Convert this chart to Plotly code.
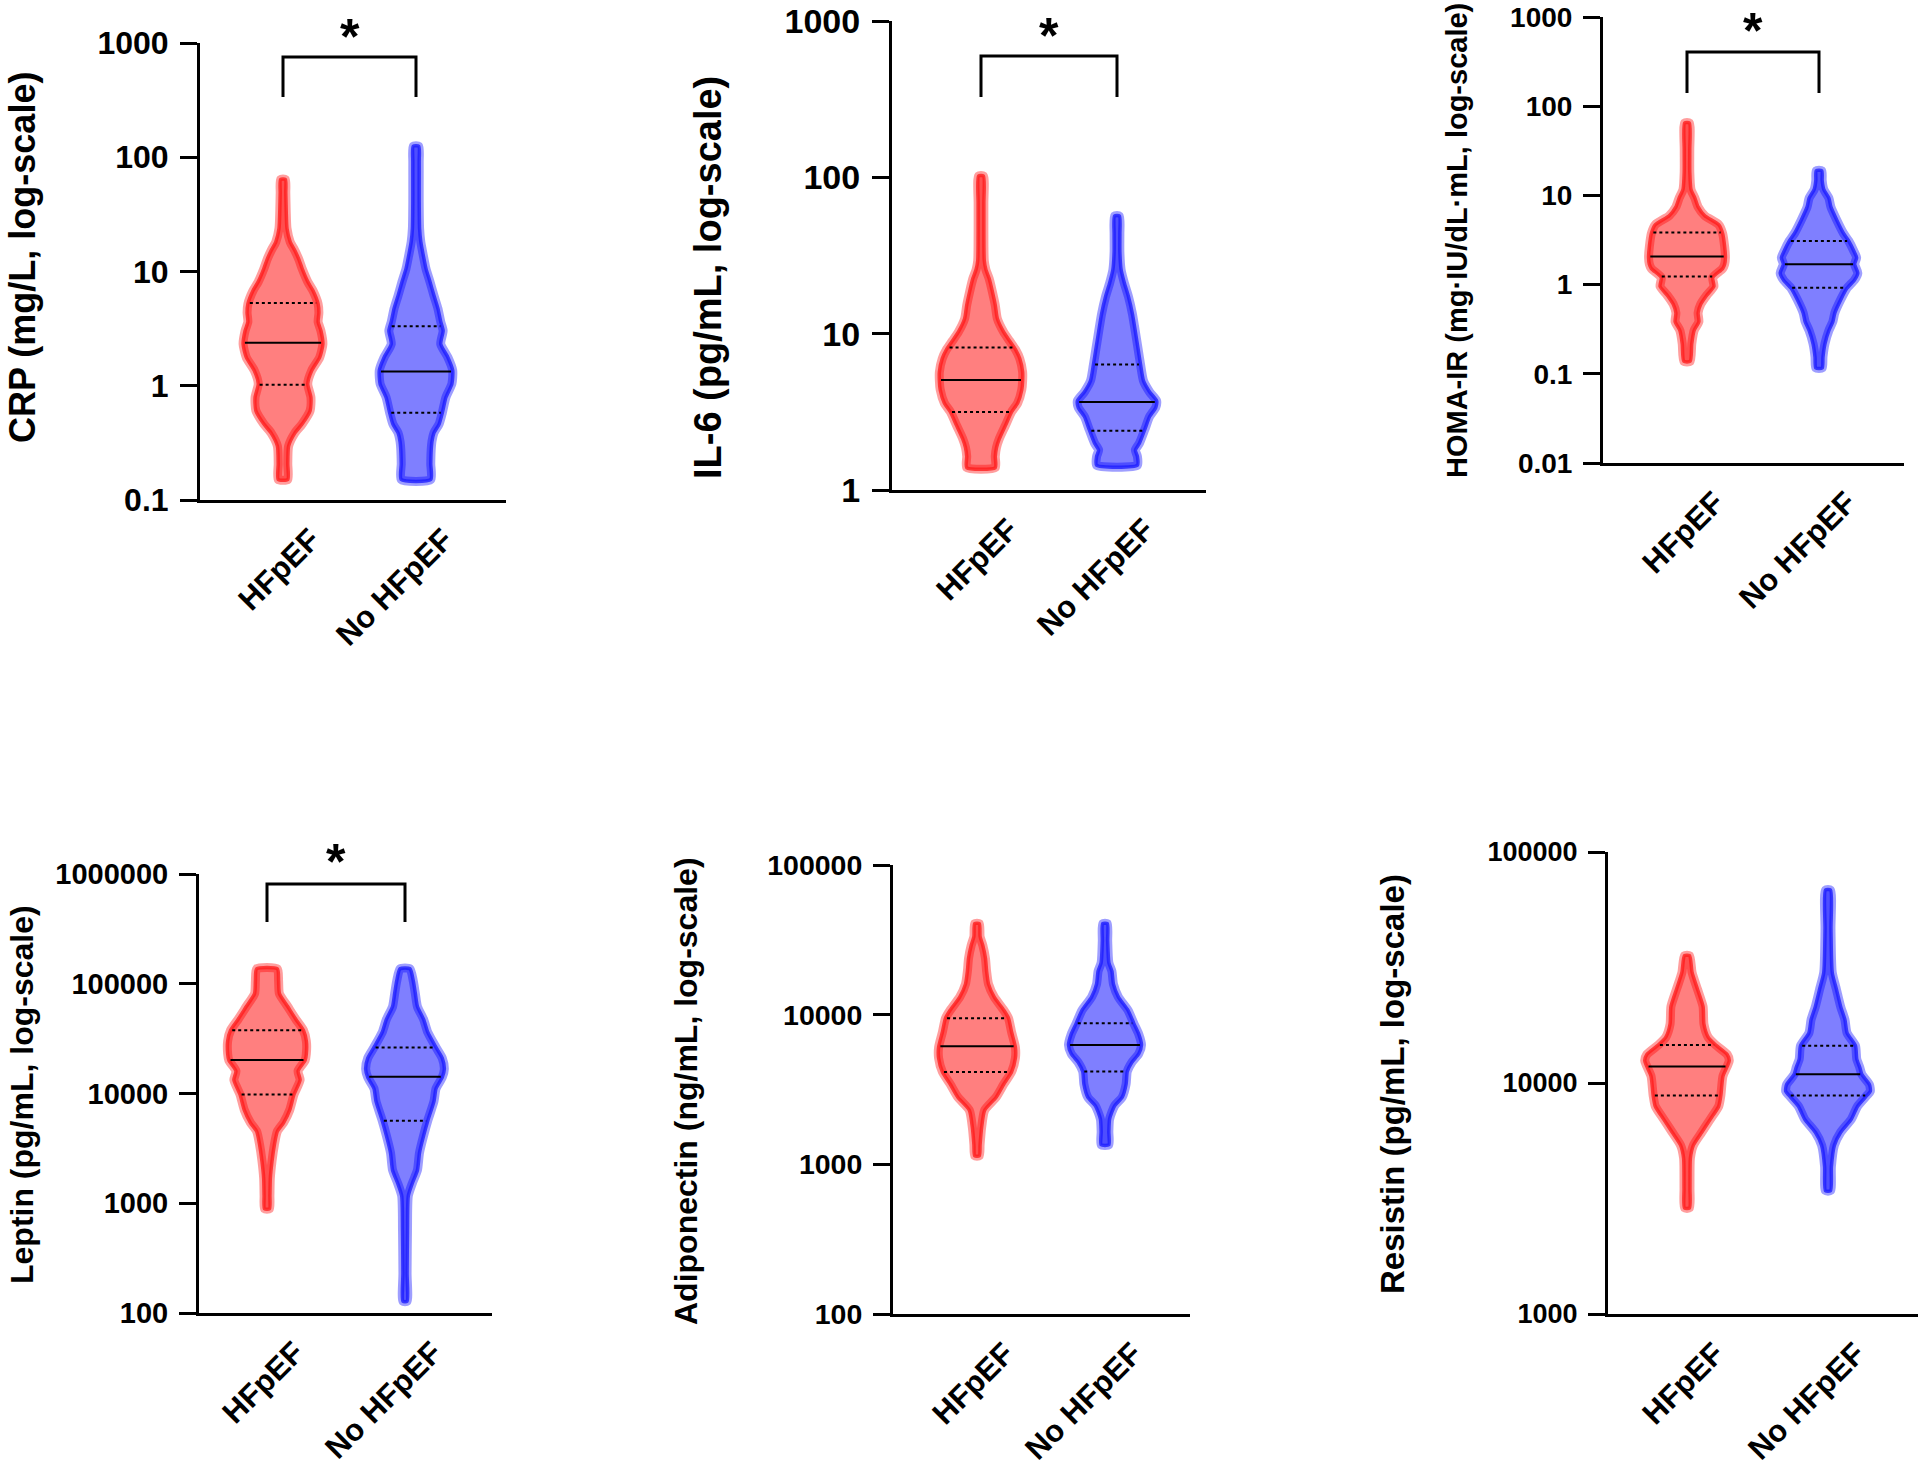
import numpy as np
import plotly.graph_objects as go

GROUPS = ["HFpEF", "No HFpEF"]

# ---------------- data ----------------
# violin outlines: levels (data units) and relative width (% of widest violin)
crp_hf_level = [0.151, 0.207, 0.296, 0.387, 0.462, 0.605, 0.792, 1.04, 1.36, 1.77, 2.32, 3.03, 3.63, 4.35, 5.20, 6.81, 8.15, 10.6, 12.7, 15.2, 18.2, 23.8, 34.1, 48.9, 63.8]
crp_hf_width = [12, 12, 14, 30, 48, 68, 70, 62, 72, 92, 100, 95, 88, 90, 88, 75, 62, 48, 40, 30, 18, 10, 8, 7, 6]
crp_no_level = [0.151, 0.207, 0.272, 0.326, 0.387, 0.462, 0.58, 0.792, 1.04, 1.36, 1.77, 2.32, 3.03, 3.63, 4.73, 6.15, 8.15, 10.6, 14.0, 18.2, 23.8, 40.8, 63.8, 91.4, 125]
crp_no_width = [37, 37, 38, 40, 45, 58, 66, 75, 90, 92, 80, 62, 68, 62, 55, 45, 35, 25, 18, 12, 9, 8, 8, 8, 7]
crp_hf_stats = [1.02, 2.38, 5.3]      # Q1, median, Q3
crp_no_stats = [0.58, 1.33, 3.32]

il6_hf_level = [1.39, 1.64, 1.87, 2.13, 2.59, 3.16, 3.60, 4.38, 4.99, 5.69, 6.92, 7.89, 9.00, 10.3, 12.5, 15.2, 18.5, 22.5, 25.7, 29.3, 49.6, 68.8, 102]
il6_hf_width = [35, 35, 38, 45, 60, 75, 90, 100, 102, 102, 95, 85, 70, 55, 40, 35, 28, 20, 12, 8, 7, 7, 6]
il6_no_level = [1.44, 1.64, 1.80, 1.99, 2.43, 2.95, 3.37, 3.72, 4.24, 4.99, 6.28, 7.89, 10.3, 13.3, 17.3, 21.1, 25.7, 33.4, 43.5, 56.5]
il6_no_width = [50, 50, 45, 55, 68, 80, 95, 97, 80, 65, 58, 52, 45, 38, 28, 18, 10, 7, 7, 6]
il6_hf_stats = [3.16, 5.06, 8.17]
il6_no_stats = [2.39, 3.66, 6.35]

homa_hf_level = [0.138, 0.217, 0.306, 0.384, 0.482, 0.605, 0.760, 0.955, 1.20, 1.51, 1.69, 2.00, 2.67, 3.75, 4.71, 5.92, 7.43, 9.33, 11.7, 18.5, 32.7, 64.9]
homa_hf_width = [8, 12, 18, 30, 28, 35, 50, 68, 65, 90, 95, 97, 95, 90, 80, 45, 28, 20, 10, 7, 7, 6]
homa_no_level = [0.116, 0.154, 0.217, 0.306, 0.384, 0.482, 0.679, 0.902, 1.13, 1.35, 1.69, 2.00, 2.38, 3.09, 3.75, 5.28, 7.43, 9.33, 11.7, 14.7, 18.9]
homa_no_width = [8, 10, 15, 25, 35, 40, 55, 70, 90, 98, 90, 95, 88, 75, 62, 45, 30, 25, 12, 8, 7]
homa_hf_stats = [1.23, 2.07, 3.84]
homa_no_stats = [0.92, 1.69, 3.09]

lep_hf_level = [889, 1170, 1680, 2400, 3440, 4520, 5410, 7100, 9730, 13300, 16000, 20000, 23000, 30100, 37700, 47300, 62000, 81300, 106000, 137000]
lep_hf_width = [6, 7, 8, 12, 18, 25, 40, 55, 65, 80, 75, 92, 95, 95, 88, 70, 50, 30, 28, 25]
lep_no_level = [128, 230, 566, 1170, 1530, 2000, 2880, 4130, 5660, 8500, 11100, 14000, 16700, 21000, 26300, 36100, 47300, 62000, 81300, 106000, 137000]
lep_no_width = [5, 5, 6, 8, 18, 30, 35, 45, 55, 70, 75, 90, 95, 90, 75, 55, 45, 30, 25, 20, 12]
lep_hf_stats = [9800, 20200, 37700]
lep_no_stats = [5660, 14200, 26300]

adi_hf_level = [1140, 1350, 1760, 2300, 2810, 3440, 4140, 5130, 6060, 7660, 9480, 10700, 13100, 16000, 19500, 23800, 29100, 33300, 40600]
adi_hf_width = [6, 8, 12, 20, 50, 70, 90, 100, 100, 90, 82, 70, 45, 30, 25, 22, 15, 8, 6]
adi_no_level = [1350, 1650, 2010, 2460, 2810, 3440, 4170, 4800, 5480, 6270, 7410, 8750, 10700, 13100, 16000, 19500, 22300, 31100, 40600]
adi_no_width = [10, 10, 12, 25, 45, 55, 58, 70, 88, 95, 88, 75, 60, 35, 22, 18, 10, 7, 6]
adi_hf_stats = [4140, 6140, 9480]
adi_no_stats = [4170, 6270, 8750]

res_hf_level = [2880, 3490, 4720, 5370, 6120, 6960, 7930, 8830, 10700, 11800, 12500, 13300, 14600, 15800, 18000, 21400, 25400, 30100, 35600]
res_hf_width = [6, 7, 8, 15, 35, 55, 75, 80, 85, 95, 100, 95, 68, 50, 40, 38, 25, 12, 6]
res_no_level = [3420, 4340, 5370, 6120, 6960, 7930, 8830, 9210, 9840, 10900, 11700, 12700, 14500, 16500, 18800, 21400, 25400, 30100, 46400, 68400]
res_no_width = [6, 8, 15, 30, 55, 70, 92, 100, 98, 80, 75, 68, 65, 45, 40, 30, 20, 10, 7, 6]
res_hf_stats = [8830, 11800, 14600]
res_no_stats = [8830, 10900, 14500]

# tick labels
crp_ticks = ["0.1", "1", "10", "100", "1000"]
il6_ticks = ["1", "10", "100", "1000"]
homa_ticks = ["0.01", "0.1", "1", "10", "100", "1000"]
lep_ticks = ["100", "1000", "10000", "100000", "1000000"]
adi_ticks = ["100", "1000", "10000", "100000"]
res_ticks = ["1000", "10000", "100000"]

titles = ["CRP (mg/L, log-scale)", "IL-6 (pg/mL, log-scale)", "HOMA-IR (mg\u00b7IU/dL\u00b7mL, log-scale)",
          "Leptin (pg/mL, log-scale)", "Adiponectin (ng/mL, log-scale)", "Resistin (pg/mL, log-scale)"]
significant = [True, True, True, True, False, False]

panels = [
    ((crp_hf_level, crp_hf_width, crp_hf_stats), (crp_no_level, crp_no_width, crp_no_stats), crp_ticks),
    ((il6_hf_level, il6_hf_width, il6_hf_stats), (il6_no_level, il6_no_width, il6_no_stats), il6_ticks),
    ((homa_hf_level, homa_hf_width, homa_hf_stats), (homa_no_level, homa_no_width, homa_no_stats), homa_ticks),
    ((lep_hf_level, lep_hf_width, lep_hf_stats), (lep_no_level, lep_no_width, lep_no_stats), lep_ticks),
    ((adi_hf_level, adi_hf_width, adi_hf_stats), (adi_no_level, adi_no_width, adi_no_stats), adi_ticks),
    ((res_hf_level, res_hf_width, res_hf_stats), (res_no_level, res_no_width, res_no_stats), res_ticks),
]

# ---------------- layout geometry (pixels) ----------------
W, H = 1920, 1477
# axis left/right/top/bottom, violin centres, title centre & size, tick font size, bracket (top, bottom, star)
geom = [
    dict(L=200, R=506, T=43, B=500, c0=283, c1=416, tx=22, ty=258, ts=36, fs=32, brk=(57, 97, 31)),
    dict(L=892, R=1206, T=21, B=490, c0=981, c1=1117, tx=708, ty=278, ts=38, fs=34, brk=(56, 97, 30)),
    dict(L=1603, R=1904, T=17, B=463, c0=1687, c1=1819, tx=1457, ty=241, ts=29, fs=28, brk=(52, 93, 25)),
    dict(L=199, R=492, T=874, B=1313, c0=267, c1=405, tx=22, ty=1095, ts=32, fs=29, brk=(884, 922, 856)),
    dict(L=893, R=1190, T=865, B=1314, c0=977, c1=1105, tx=686, ty=1091, ts=32, fs=28.5, brk=None),
    dict(L=1608, R=1918, T=852, B=1314, c0=1687, c1=1828, tx=1392, ty=1084, ts=33, fs=27, brk=None),
]

FONT = "Liberation Sans, Arial, sans-serif"
FILL = ["rgba(255,0,0,0.5)", "rgba(0,0,255,0.5)"]
HALO = ["rgba(255,0,0,0.38)", "rgba(0,0,255,0.38)"]
EDGE = ["rgba(255,30,30,0.8)", "rgba(30,30,255,0.8)"]
HW = 0.30  # widest half-width in category units

fig = go.Figure()
layout = dict(width=W, height=H, margin=dict(l=0, r=0, t=0, b=0, autoexpand=False), plot_bgcolor="white",
              paper_bgcolor="white", showlegend=False, shapes=[], annotations=[])

for i, (v0, v1, ticks) in enumerate(panels):
    g = geom[i]
    n = "" if i == 0 else str(i + 1)
    xa, ya = "x" + n, "y" + n
    u = g["c1"] - g["c0"]
    xr = [(g["L"] - g["c0"]) / u, (g["R"] - g["c0"]) / u]
    tickvals = [float(t) for t in ticks]
    yr = [np.log10(tickvals[0]), np.log10(tickvals[-1])]

    for k, (lev, wid, st) in enumerate([v0, v1]):
        lev = np.array(lev, float)
        hw = np.array(wid, float) / 100 * HW
        xs = np.concatenate([k + hw, (k - hw)[::-1], [k + hw[0]]])
        ys = np.concatenate([lev, lev[::-1], [lev[0]]])
        fig.add_trace(go.Scatter(x=xs, y=ys, mode="lines", fill="toself", fillcolor=FILL[k],
                                 line=dict(color=HALO[k], width=9, shape="spline", smoothing=0.6),
                                 xaxis=xa, yaxis=ya, hoverinfo="skip"))
        fig.add_trace(go.Scatter(x=xs, y=ys, mode="lines",
                                 line=dict(color=EDGE[k], width=3.5, shape="spline", smoothing=0.6),
                                 xaxis=xa, yaxis=ya, hoverinfo="skip"))
        loglev = np.log10(lev)
        for j, val in enumerate(st):
            w = np.interp(np.log10(val), loglev, hw) - 0.012
            fig.add_trace(go.Scatter(x=[k - w, k + w], y=[val, val], mode="lines",
                                     line=dict(color="black", width=2, dash="solid" if j == 1 else "dot"),
                                     xaxis=xa, yaxis=ya, hoverinfo="skip"))

    xdom = [g["L"] / W, g["R"] / W]
    ydom = [1 - g["B"] / H, 1 - g["T"] / H]
    layout["xaxis" + n] = dict(domain=xdom, range=xr, anchor=ya, tickvals=[0, 1], ticktext=GROUPS,
                               tickangle=-45, ticks="", showline=True, linewidth=3, linecolor="black",
                               showgrid=False, zeroline=False, fixedrange=True, automargin=False,
                               ticklabelshift=28, ticklabelstandoff=6, ticklabeloverflow="allow",
                               tickfont=dict(family=FONT, size=31, color="black", weight="bold"))
    layout["yaxis" + n] = dict(domain=ydom, range=yr, type="log", anchor=xa, tickvals=tickvals,
                               ticktext=ticks, ticks="outside", ticklen=17, tickwidth=3, tickcolor="black",
                               showline=True, linewidth=3, linecolor="black", showgrid=False,
                               zeroline=False, fixedrange=True, automargin=False, ticklabelstandoff=5,
                               ticklabeloverflow="allow",
                               tickfont=dict(family=FONT, size=g["fs"], color="black", weight="bold"))
    layout["annotations"].append(dict(text=titles[i], textangle=-90, x=g["tx"] / W, y=1 - g["ty"] / H,
                                      xref="paper", yref="paper", xanchor="center", yanchor="middle",
                                      showarrow=False,
                                      font=dict(family=FONT, size=g["ts"], color="black", weight="bold")))
    if significant[i] and g["brk"]:
        top, bot, star = g["brk"]
        layout["shapes"].append(dict(type="path", xref=xa, yref="paper",
                                     path=f"M 0,{1 - bot / H} L 0,{1 - top / H} L 1,{1 - top / H} L 1,{1 - bot / H}",
                                     line=dict(color="black", width=3)))
        layout["annotations"].append(dict(text="*", x=0.5, y=1 - (star + 6) / H, xref=xa, yref="paper",
                                          xanchor="center", yanchor="middle", showarrow=False,
                                          font=dict(family=FONT, size=50, color="black", weight="bold")))

fig.update_layout(**layout)
fig.write_html("out.html", config={"displayModeBar": False},
               post_script="document.body.style.margin='0';document.body.style.padding='0';"
                           "document.body.style.overflow='hidden';")
